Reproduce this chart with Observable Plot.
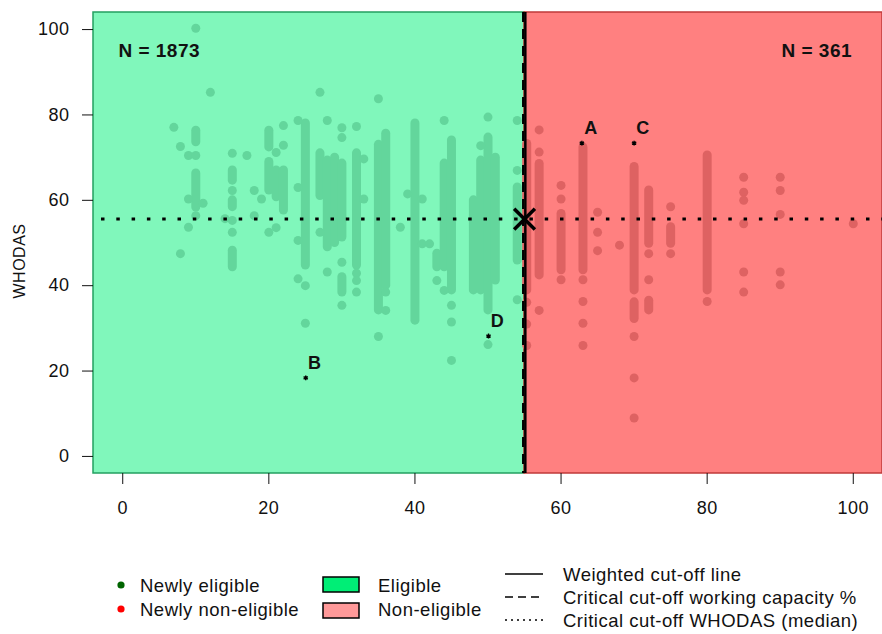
<!DOCTYPE html>
<html>
<head>
<meta charset="utf-8">
<script src="https://cdn.jsdelivr.net/npm/d3@7"></script>
<script src="https://cdn.jsdelivr.net/npm/@observablehq/plot@0.6"></script>
<style>
  html, body { margin: 0; padding: 0; background: #fff; }
  #wrap { position: relative; width: 882px; height: 634px; overflow: hidden; background: #fff;
          font-family: "Liberation Sans", Arial, sans-serif; }
  #wrap svg text { letter-spacing: 0.5px; }
  #legend { position: absolute; left: 0; top: 0; }
</style>
</head>
<body>
<div id="wrap"></div>
<script>
// ---------- data ----------
const xTicks = [0, 20, 40, 60, 80, 100];
const yTicks = [0, 20, 40, 60, 80, 100];
const axisMin = -4, axisMax = 104;
const cutoffWorkCap = 55;      // critical cut-off working capacity %
const medianWHODAS = 55.6;     // critical cut-off WHODAS (median)
const yTitle = "WHODAS";

const regionName = ["Eligible", "Non-eligible"];
const regionX1 = [-4, 55];
const regionX2 = [55, 104];

// eligible (green) dense runs of points: x, lowest y, highest y
const eligRunX  = [10, 10, 15, 15, 15, 20, 20, 21, 22, 25, 27, 28, 29, 30, 30, 32, 35, 36, 40, 43, 44, 45, 48, 49, 50, 51, 54];
const eligRunLo = [73.6, 58.3, 64.6, 58.4, 44.3, 72.4, 62.3, 60.7, 57.6, 44.7, 61, 49, 50, 51.3, 38.4, 44.7, 34.2, 40, 31.8, 44.3, 44.3, 38.9, 38.9, 38.9, 34.2, 41.2, 45.9];
const eligRunHi = [76.3, 66.3, 67, 60, 48.2, 76.3, 69, 67, 67, 78, 71, 69.3, 70, 68.6, 42, 71, 73, 75.6, 78, 47.5, 68.6, 74, 60, 69.3, 74.7, 70, 63];
// eligible isolated points
const eligDotX = [7, 7.9, 7.9, 9, 9, 9, 10, 10, 11, 12, 10, 14, 15, 15, 15, 15, 17, 18, 18, 19, 20, 21, 21, 22, 22, 24, 24, 24, 24, 25, 25, 27, 27, 28, 28, 30, 30, 30, 30, 32, 32, 32, 32, 33, 33, 35, 35, 36, 36, 38, 39, 41, 41, 42, 43, 44, 44, 45, 45, 45, 49, 50, 50, 54, 54, 54];
const eligDotY = [77.1, 72.6, 47.5, 70.5, 60.3, 53.7, 100.3, 70.5, 59.3, 85.3, 56.4, 55.7, 71, 62.3, 55.3, 52.5, 70.5, 62.3, 56.4, 60.3, 52.5, 71.2, 53.6, 77.5, 72.9, 78.7, 63, 50.6, 41.6, 40, 31.2, 85.3, 52.5, 78.7, 43.2, 77, 74.7, 45.5, 35.4, 77.3, 42.9, 41.2, 38.5, 69.7, 60.3, 83.8, 28.1, 38.5, 34.2, 53.7, 61.5, 60.3, 49.8, 49.8, 41.2, 78.7, 38.9, 35.4, 31.5, 22.5, 72.8, 79.5, 26.2, 78.7, 67, 36.7];

// non-eligible (red) dense runs
const nonRunX  = [55.3, 57, 60, 63, 70, 70, 72, 72, 75, 80];
const nonRunLo = [38.9, 42.4, 43.6, 43.6, 38.9, 32.2, 49.8, 34.2, 49.8, 38.9];
const nonRunHi = [73.2, 68.5, 56.8, 72.4, 67.8, 36.1, 62.3, 36.5, 53.7, 70.5];
// non-eligible isolated points
const nonDotX = [55.3, 55.3, 55.3, 57, 57, 57, 60, 60, 60, 63, 63, 63, 63, 65, 65, 65, 68, 70, 70, 70, 72, 72, 75, 75, 80, 85, 85, 85, 85, 85, 85, 90, 90, 90, 90, 90, 100];
const nonDotY = [36.1, 31, 26, 76.5, 71.3, 34.2, 63.5, 60.3, 41.4, 41.4, 36.3, 31.2, 26, 57.2, 52.5, 48.2, 49.5, 28.1, 18.4, 9, 47.5, 41.4, 58.5, 47.5, 36.3, 65.4, 61.9, 60, 54.5, 43.2, 38.5, 65.4, 62.3, 56.7, 43.2, 40.2, 54.5];

// labelled cases
const caseLabel = ["A", "B", "C", "D"];
const caseX = [62.85, 25.05, 70, 50.07];
const caseY = [73.4, 18.4, 73.4, 28.2];

// group counts
const nText = ["N = 1873", "N = 361"];
const nX = [5, 95];
const nY = [95, 95];

// ---------- colours ----------
const greenBg = "#80F7BB", redBg = "#FF8080";
const greenDot = "#63D69C", redDot = "#DE6262";

// ---------- tables ----------
const regions = regionName.map((n, i) => ({name: n, x1: regionX1[i], x2: regionX2[i], y1: axisMin, y2: axisMax}));
const eligRuns = eligRunX.map((x, i) => ({x, lo: eligRunLo[i], hi: eligRunHi[i]}));
const nonRuns = nonRunX.map((x, i) => ({x, lo: nonRunLo[i], hi: nonRunHi[i]}));
const eligDots = eligDotX.map((x, i) => ({x, y: eligDotY[i]}));
const nonDots = nonDotX.map((x, i) => ({x, y: nonDotY[i]}));
const cases = caseLabel.map((t, i) => ({t, x: caseX[i], y: caseY[i]}));
const nLabels = nText.map((t, i) => ({t, x: nX[i], y: nY[i]}));

const chart = Plot.plot({
  width: 882,
  height: 545,
  marginLeft: 93,
  marginRight: 0,
  marginTop: 12,
  marginBottom: 72,
  style: {fontFamily: '"Liberation Sans", Arial, sans-serif', fontSize: "18px", color: "#111", background: "white", overflow: "visible"},
  x: {domain: [axisMin, axisMax]},
  y: {domain: [axisMin, axisMax]},
  marks: [
    Plot.rect(regions, {x1: "x1", x2: "x2", y1: "y1", y2: "y2",
      fill: d => d.name === "Eligible" ? greenBg : redBg,
      stroke: d => d.name === "Eligible" ? "#23A060" : "#C03A3A", strokeWidth: 1.5}),
    Plot.ruleX(eligRuns, {x: "x", y1: "lo", y2: "hi", stroke: greenDot, strokeWidth: 9, strokeLinecap: "round"}),
    Plot.dot(eligDots, {x: "x", y: "y", r: 4.5, fill: greenDot}),
    Plot.ruleX(nonRuns, {x: "x", y1: "lo", y2: "hi", stroke: redDot, strokeWidth: 9, strokeLinecap: "round"}),
    Plot.dot(nonDots, {x: "x", y: "y", r: 4.5, fill: redDot}),
    Plot.ruleY([medianWHODAS], {y: d => d, stroke: "black", strokeWidth: 3, strokeDasharray: "3.5,11.8", strokeDashoffset: -8}),
    Plot.ruleX([cutoffWorkCap], {x: d => d, stroke: "black", strokeWidth: 2, strokeDasharray: "10,7", dx: -1.5}),
    Plot.ruleX([cutoffWorkCap], {x: d => d, stroke: "black", strokeWidth: 2.5, dx: 0.8}),
    Plot.dot([{x: cutoffWorkCap, y: medianWHODAS}], {x: "x", y: "y", symbol: "times", r: 9.5, stroke: "black", strokeWidth: 3.5}),
    Plot.dot(cases, {x: "x", y: "y", symbol: "asterisk", r: 2.3, stroke: "black", strokeWidth: 1.4}),
    Plot.text(cases, {x: "x", y: "y", text: "t", dx: 9, dy: -15, fontSize: 18, fontWeight: "bold", fill: "#111"}),
    Plot.text(nLabels, {x: "x", y: "y", text: "t", fontSize: 19, fontWeight: "bold", fill: "#111"}),
    Plot.axisX({ticks: xTicks, tickSize: 11, tickPadding: 17, fontSize: 18, label: null}),
    Plot.axisY({ticks: yTicks, tickSize: 11, tickPadding: 13, fontSize: 18, label: null})
  ]
});
document.getElementById("wrap").appendChild(chart);

// ---------- overlay: y title and legend ----------
const NS = "http://www.w3.org/2000/svg";
const leg = document.createElementNS(NS, "svg");
leg.setAttribute("id", "legend");
leg.setAttribute("width", 882);
leg.setAttribute("height", 634);
leg.style.fontFamily = '"Liberation Sans", Arial, sans-serif';
leg.style.pointerEvents = "none";
function el(tag, attrs, text) {
  const e = document.createElementNS(NS, tag);
  for (const k in attrs) e.setAttribute(k, attrs[k]);
  if (text != null) e.textContent = text;
  leg.appendChild(e);
  return e;
}
function label(x, y, t) {
  el("text", {x, y, "dominant-baseline": "central", "font-size": 18.5, fill: "#111"}, t);
}
// y-axis title
el("text", {x: 0, y: 0, transform: "translate(19,261) rotate(-90)", "text-anchor": "middle",
  "dominant-baseline": "central", "font-size": 16, fill: "#111"}, yTitle);
// points
el("circle", {cx: 121, cy: 585, r: 3.6, fill: "#006400"});
label(140, 585, "Newly eligible");
el("circle", {cx: 121, cy: 609, r: 3.6, fill: "#FF0000"});
label(140, 609, "Newly non-eligible");
// areas
el("rect", {x: 323, y: 577, width: 36, height: 15, fill: "#00EE76", stroke: "#000", "stroke-width": 1.5});
label(378, 585, "Eligible");
el("rect", {x: 323, y: 603, width: 36, height: 15, fill: "#FF9999", stroke: "#000", "stroke-width": 1.5});
label(378, 609, "Non-eligible");
// lines
el("line", {x1: 505, x2: 543, y1: 574, y2: 574, stroke: "#000", "stroke-width": 1.5});
label(563, 574, "Weighted cut-off line");
el("line", {x1: 505, x2: 543, y1: 597, y2: 597, stroke: "#000", "stroke-width": 1.5, "stroke-dasharray": "8,5"});
label(563, 597, "Critical cut-off working capacity %");
el("line", {x1: 505, x2: 543, y1: 620, y2: 620, stroke: "#000", "stroke-width": 1.5, "stroke-dasharray": "2,4"});
label(563, 620, "Critical cut-off WHODAS (median)");
document.getElementById("wrap").appendChild(leg);
</script>
</body>
</html>
